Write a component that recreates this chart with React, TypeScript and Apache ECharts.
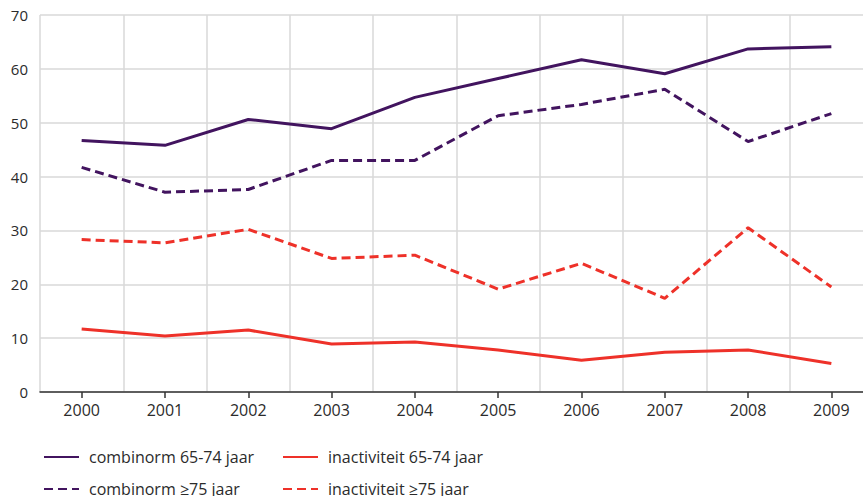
import React, { useEffect, useRef } from "react";
import * as echarts from "echarts";

const years = ["2000", "2001", "2002", "2003", "2004", "2005", "2006", "2007", "2008", "2009"];
const combinorm6574 = [46.7, 45.8, 50.6, 48.9, 54.7, 58.2, 61.7, 59.1, 63.7, 64.1];
const combinorm75 = [41.7, 37.1, 37.6, 43.0, 43.0, 51.3, 53.4, 56.2, 46.5, 51.7];
const inactiviteit6574 = [11.7, 10.4, 11.5, 8.9, 9.3, 7.8, 5.9, 7.4, 7.8, 5.3];
const inactiviteit75 = [28.3, 27.7, 30.2, 24.8, 25.4, 19.1, 23.9, 17.4, 30.5, 19.5];

const names = [
  "combinorm 65-74 jaar",
  "inactiviteit 65-74 jaar",
  "combinorm \u226575 jaar",
  "inactiviteit \u226575 jaar",
];

const PURPLE = "#42145f";
const RED = "#ee3129";
const FONT = "Open Sans";
const TEXT = "#2b2b2b";

export default function App() {
  const ref = useRef<HTMLDivElement>(null);
  useEffect(() => {
    if (!ref.current) return;
    const chart = echarts.init(ref.current, undefined, { renderer: "svg" });
    const legendBase = {
      orient: "horizontal" as const,
      itemWidth: 35,
      itemHeight: 14,
      itemStyle: { opacity: 0 },
      textStyle: { color: TEXT, fontFamily: FONT, fontSize: 16, padding: [0, 0, 0, 5] },
      selectedMode: false,
    };
    const mkSeries = (name: string, data: number[], color: string, dashed: boolean) => ({
      name,
      type: "line",
      data,
      symbol: "none",
      lineStyle: { color, width: 3, type: dashed ? [9, 5] : "solid" },
      itemStyle: { color },
    });
    chart.setOption({
      animation: false,
      textStyle: { fontFamily: FONT },
      grid: {
        left: 40,
        right: -10,
        top: 15,
        bottom: 104,
        containLabel: false,
        outerBoundsMode: "none",
      },
      legend: [
        { ...legendBase, data: [names[0]], left: 38, top: 444 },
        { ...legendBase, data: [names[1]], left: 277, top: 444 },
        { ...legendBase, data: [names[2]], left: 38, top: 476 },
        { ...legendBase, data: [names[3]], left: 277, top: 476 },
      ],
      xAxis: {
        type: "category",
        data: years,
        boundaryGap: true,
        axisLine: { show: true, lineStyle: { color: "#333", width: 1.5 } },
        axisTick: { show: true, alignWithLabel: true, length: 6, lineStyle: { color: "#333", width: 1.5 } },
        axisLabel: { color: TEXT, fontFamily: FONT, fontSize: 16, margin: 10 },
        splitLine: { show: true, lineStyle: { color: "#d9d9d9", width: 1.5 } },
      },
      yAxis: {
        type: "value",
        min: 0,
        max: 70,
        interval: 10,
        axisLine: { show: false },
        axisTick: { show: false },
        axisLabel: { color: TEXT, fontFamily: FONT, fontSize: 15, margin: 12 },
        splitLine: { show: true, lineStyle: { color: "#d9d9d9", width: 1.5 } },
      },
      series: [
        mkSeries(names[0], combinorm6574, PURPLE, false),
        mkSeries(names[1], inactiviteit6574, RED, false),
        mkSeries(names[2], combinorm75, PURPLE, true),
        mkSeries(names[3], inactiviteit75, RED, true),
      ],
    });
    return () => chart.dispose();
  }, []);
  return (
    <div
      ref={ref}
      style={{ position: "fixed", left: 0, top: 0, width: 863, height: 496, background: "#fff" }}
    />
  );
}
